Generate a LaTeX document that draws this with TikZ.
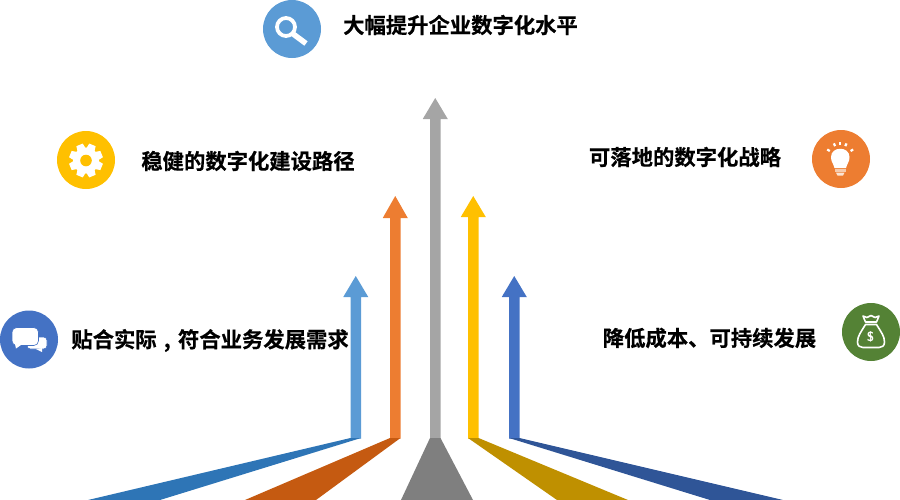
\documentclass[tikz,border=0pt]{standalone}
\usepackage{fontspec}
\newfontfamily\cjk[FakeBold=0.5]{Noto Sans CJK SC Bold}
\definecolor{cBlueL}{HTML}{5B9BD5}
\definecolor{cBlueLD}{HTML}{2E75B6}
\definecolor{cOrange}{HTML}{ED7D31}
\definecolor{cOrangeD}{HTML}{C55A11}
\definecolor{cGrey}{HTML}{A5A5A5}
\definecolor{cGreyD}{HTML}{7F7F7F}
\definecolor{cYellow}{HTML}{FFC000}
\definecolor{cYellowD}{HTML}{BF9000}
\definecolor{cBlue}{HTML}{4472C4}
\definecolor{cBlueD}{HTML}{2F5597}
\definecolor{cGreen}{HTML}{548235}
\tikzset{
  x=0.75pt,y=-0.75pt,
  badge/.style={circle,minimum size=43.5pt,inner sep=0pt,fill=#1},
  label/.style={font=\cjk\fontsize{16pt}{18pt}\selectfont,text=black,inner sep=0pt,anchor=center},
  px/.style={line width=#1*0.75pt},
}
% arrow: colour, foot colour, shaft left, tip y, head base y, foot bottom-left, foot bottom-right
\newcommand{\riseArrow}[7]{%
  \fill[#1] (#3,438.5) -- (#3,#5) -- (#3-7.25,#5) -- (#3+5.25,#4) -- (#3+17.75,#5) -- (#3+10.5,#5) -- (#3+10.5,438.5) -- cycle;
  \fill[#2] (#3,438) -- (#3+10.5,438) -- (#7,500) -- (#6,500) -- cycle;
}
\begin{document}
\begin{tikzpicture}
\useasboundingbox (0,0) rectangle (900,500);
\riseArrow{cBlueL}{cBlueLD}{350.5}{276}{297}{88}{160}
\riseArrow{cOrange}{cOrangeD}{390}{196}{218}{245}{316}
\riseArrow{cGrey}{cGreyD}{430}{98}{119}{401}{473}
\riseArrow{cYellow}{cYellowD}{468}{196}{217}{557}{628}
\riseArrow{cBlue}{cBlueD}{509}{276}{297}{710}{783}

\node[badge=cBlueL] (search) at (292,29) {};
\node[badge=cYellow] (gear) at (86,160) {};
\node[badge=cOrange] (bulb) at (841,159) {};
\node[badge=cGreen] (money) at (871,332) {};
\node[badge=cBlue] (chat) at (29,339.5) {};

\node[label] (t1) at (460.5,25) {大幅提升企业数字化水平};
\node[label] (t2) at (248,161) {稳健的数字化建设路径};
\node[label] (t3) at (685,157) {可落地的数字化战略};
\node[label] (t4) at (210,340.5) {贴合实际\makebox[1em]{,}符合业务发展需求};
\node[label] (t5) at (709.5,338) {降低成本、可持续发展};

% magnifier
\draw[white,px=3.8] (286,27) circle (9);
\draw[white,px=5.5] (292.5,33.5) -- (306,43.5);
% gear
\foreach \a in {0,45,...,315}
  \fill[white,rotate around={\a+22.5:(86,160.5)}] (82.6,143.6) -- (89.4,143.6) -- (90.6,150) -- (81.4,150) -- cycle;
\fill[white] (86,160.5) circle (13);
\fill[cYellow] (86,160.5) circle (5.8);
% bulb
\fill[white] (834.5,168) .. controls (833,162.5) and (831,162) .. (831,157)
  .. controls (831,146) and (849.5,146) .. (849.5,157)
  .. controls (849.5,162) and (847.5,162.5) .. (846,168) -- cycle;
\fill[white,opacity=.6] (835,169) rectangle (845.5,172);
\fill[white,opacity=.8] (836,172.6) -- (844.5,172.6) -- (843,175.5) -- (837.5,175.5) -- cycle;
\foreach \a in {-60,-25,0,25,60}
  \draw[white,px=2.2,rotate around={\a:(840.2,157)}] (840.2,145) -- (840.2,142);
% money bag
\draw[white,px=1.6,line join=round] (865.5,324.5) .. controls (861,332) and (857.5,336) .. (857.5,342)
  .. controls (857.5,346) and (860,347.5) .. (863,347.5) -- (879,347.5)
  .. controls (882,347.5) and (884.5,346) .. (884.5,342)
  .. controls (884.5,336) and (881,332) .. (876.5,324.5) -- cycle;
\draw[white,px=1.6,line join=round] (865.5,322) -- (876.5,322) -- (879,316) -- (875,317.5) -- (871,315.5) -- (867,317.5) -- (863,316) -- cycle;
\node[font=\fontsize{10pt}{10pt}\selectfont\bfseries\sffamily,text=white,inner sep=0pt] (dollar) at (870.5,337) {\$};
% chat
\fill[white,draw=cBlue,px=.6,rounded corners=2.5pt] (27,337) rectangle (47,349);
\fill[white] (36,349) -- (42,352) -- (42,348) -- cycle;
\fill[white,draw=cBlue,px=.6,rounded corners=3.5pt] (12,327.5) rectangle (38.5,345.5);
\fill[white] (15,344) -- (16,348.5) -- (21,345) -- cycle;
\end{tikzpicture}
\end{document}
